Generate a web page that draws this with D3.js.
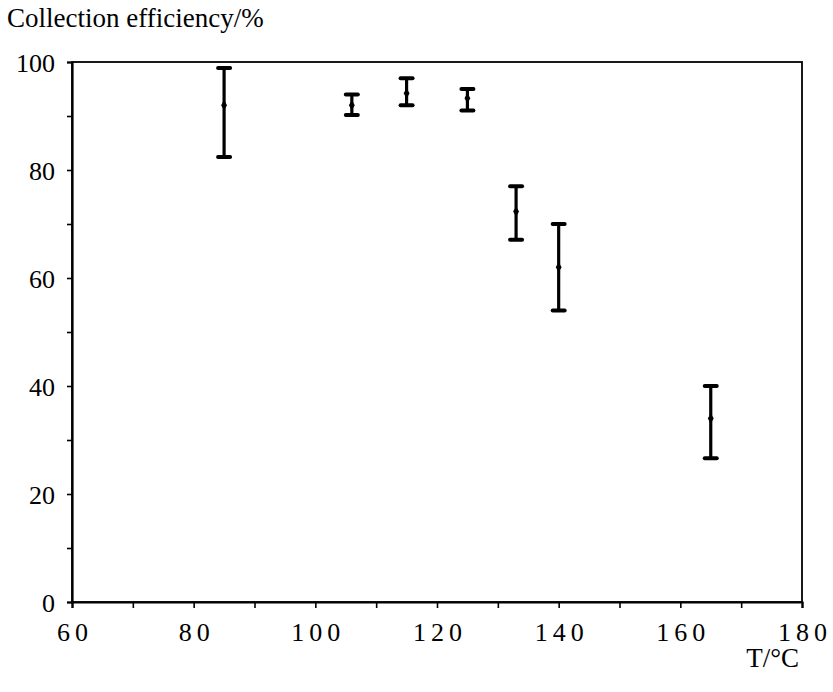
<!DOCTYPE html>
<html>
<head>
<meta charset="utf-8">
<script src="https://cdn.jsdelivr.net/npm/d3@7/dist/d3.min.js"></script>
<style>
body{margin:0;background:#fff;}
svg{display:block;}
text{font-family:"Liberation Serif",serif;fill:#000;}
</style>
</head>
<body>
<svg id="c" width="833" height="692"></svg>
<script>
const temps = [85, 106, 115, 125, 133, 140, 165];
const efficiency = [92, 92, 94.2, 93.3, 72.3, 62, 34];
const errLow = [82.4, 90.2, 92, 91, 67.1, 54, 26.6];
const errHigh = [98.9, 94, 97, 95, 77, 70, 40];
const xTicks = [60, 80, 100, 120, 140, 160, 180];
const yTicks = [0, 20, 40, 60, 80, 100];

const FONT = "'Liberation Serif', serif";
const svg = d3.select("#c");
const m = {l:72, r:802, t:62, b:602};
const x = d3.scaleLinear().domain([60,180]).range([m.l, m.r]);
const y = d3.scaleLinear().domain([0,100]).range([m.b, m.t]);

// frame
svg.append("rect").attr("x", m.l).attr("y", m.t).attr("width", m.r-m.l).attr("height", m.b-m.t)
  .attr("fill","none").attr("stroke","#000").attr("stroke-width",1.8);

// x axis
const xAxis = svg.append("g").attr("transform",`translate(0,${m.b})`)
  .call(d3.axisBottom(x).tickValues(d3.range(60,181,10)).tickSize(6).tickFormat(d => xTicks.includes(d) ? d : ""));
xAxis.attr("font-family", FONT).attr("font-size", 26);
xAxis.select(".domain").attr("stroke-width",2.2);
xAxis.selectAll(".tick line").attr("stroke-width",1.6);
xAxis.selectAll(".tick text").attr("font-family", FONT).attr("font-size",26)
  .attr("letter-spacing","5px").attr("dx","2.5px")
  .attr("y",21).attr("dy","0.71em");

// y axis
const yAxis = svg.append("g").attr("transform",`translate(${m.l},0)`)
  .call(d3.axisLeft(y).tickValues(d3.range(0,101,10)).tickSize(5).tickFormat(d => yTicks.includes(d) ? d : ""));
yAxis.attr("font-family", FONT).attr("font-size", 26);
yAxis.select(".domain").attr("stroke-width",2.2);
yAxis.selectAll(".tick line").attr("stroke-width",1.6);
yAxis.selectAll(".tick text").attr("font-family", FONT).attr("font-size",26).attr("x",-17).attr("dy","0.36em");

// error bars
const data = temps.map((t,i)=>({t, v:efficiency[i], lo:errLow[i], hi:errHigh[i]}));
const g = svg.append("g");
g.selectAll(".bar").data(data).join("line")
  .attr("x1", d=>x(d.t)).attr("x2", d=>x(d.t))
  .attr("y1", d=>y(d.lo)).attr("y2", d=>y(d.hi))
  .attr("stroke","#000").attr("stroke-width",3.2);
g.selectAll(".capT").data(data).join("line")
  .attr("x1", d=>x(d.t)-6).attr("x2", d=>x(d.t)+6)
  .attr("y1", d=>y(d.hi)).attr("y2", d=>y(d.hi))
  .attr("stroke","#000").attr("stroke-width",4).attr("stroke-linecap","round");
g.selectAll(".capB").data(data).join("line")
  .attr("x1", d=>x(d.t)-6).attr("x2", d=>x(d.t)+6)
  .attr("y1", d=>y(d.lo)).attr("y2", d=>y(d.lo))
  .attr("stroke","#000").attr("stroke-width",4).attr("stroke-linecap","round");
g.selectAll(".pt").data(data).join("path")
  .attr("d", d3.symbol().type(d3.symbolDiamond).size(30))
  .attr("transform", d=>`translate(${x(d.t)},${y(d.v)})`)
  .attr("fill","#000");

// titles
svg.append("text").attr("x",7).attr("y",27).attr("font-family",FONT).attr("font-size",27).text("Collection efficiency/%");
svg.append("text").attr("x",799).attr("y",667).attr("text-anchor","end").attr("font-family",FONT).attr("font-size",27).text("T/°C");
</script>
</body>
</html>
